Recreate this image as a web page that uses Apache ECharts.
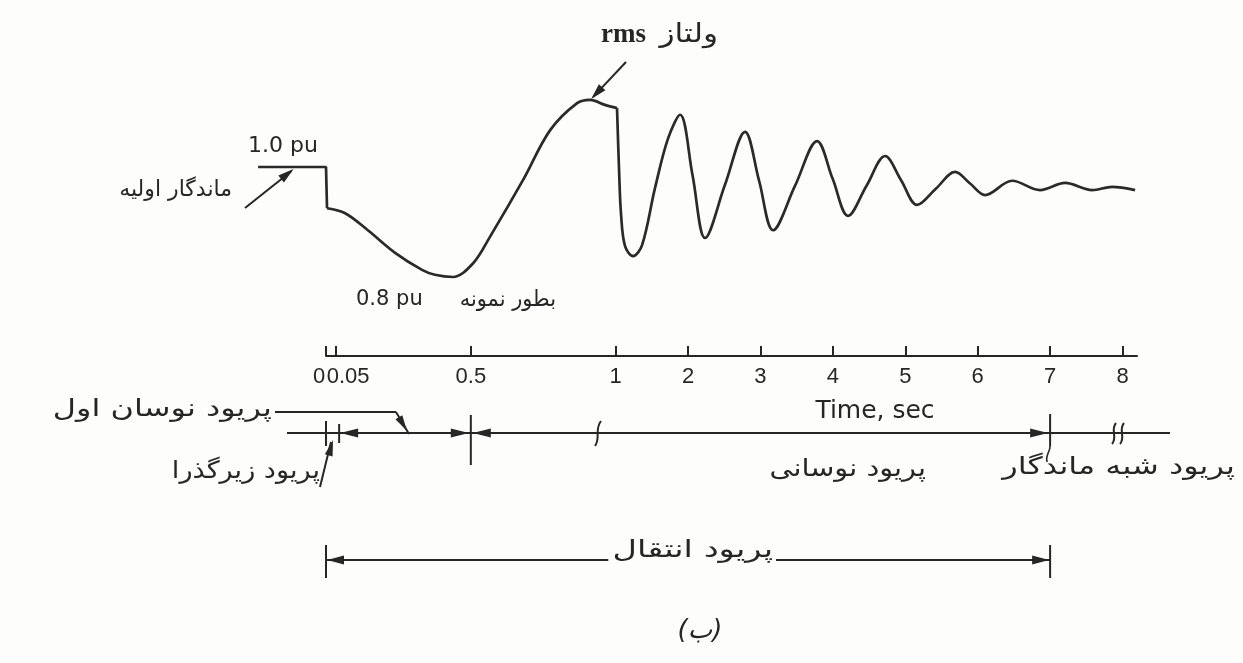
<!DOCTYPE html>
<html>
<head>
<meta charset="utf-8">
<script src="https://cdn.jsdelivr.net/npm/echarts@6/dist/echarts.min.js"></script>
<style>
  html, body { margin: 0; padding: 0; background: #fdfefb; }
  #c { width: 1243px; height: 663px; }
</style>
</head>
<body>
<div id="c"></div>
<script>
// Time axis ticks (s) and their labels
const tickTimes = [0, 0.05, 0.5, 1, 2, 3, 4, 5, 6, 7, 8];
const tickLabels = ['0', '0.05', '0.5', '1', '2', '3', '4', '5', '6', '7', '8'];

// rms voltage (pu) against time (s): pre-fault level, fault drop and first swing, then the decaying oscillation
const preFaultTime = [-0.335, 0, 0.005];
const preFaultPu = [1.0, 1.0, 0.925];
const firstSwingTime = [0.005, 0.080, 0.156, 0.247, 0.337, 0.380, 0.440, 0.508, 0.566, 0.680, 0.774, 0.867, 0.912, 0.963, 1.019];
const firstSwingPu = [0.925, 0.916, 0.885, 0.844, 0.813, 0.804, 0.800, 0.825, 0.873, 0.976, 1.067, 1.116, 1.122, 1.113, 1.107];
const swingTime = [1.019, 1.047, 1.075, 1.130, 1.240, 1.365, 1.544, 1.724, 1.890, 2.062, 2.235, 2.511, 2.787, 2.981,
  3.174, 3.478, 3.782, 3.996, 4.210, 4.465, 4.721, 4.942, 5.163, 5.425, 5.688, 5.895, 6.102, 6.475, 6.862, 7.207,
  7.580, 7.856, 8.174];
const swingPu = [1.107, 0.995, 0.913, 0.856, 0.838, 0.858, 0.962, 1.052, 1.095, 0.985, 0.871, 0.968, 1.064, 0.975,
  0.885, 0.966, 1.047, 0.979, 0.911, 0.966, 1.020, 0.976, 0.931, 0.961, 0.991, 0.970, 0.949, 0.975, 0.958, 0.971,
  0.958, 0.964, 0.958];

// Period boundaries (s)
const subtransientEnd = 0.05;
const firstSwingEnd = 0.5;
const oscillatoryEnd = 7;

// The time axis is stretched over the first second: piecewise-linear map from seconds to axis units
const warpT = [0, 0.05, 0.5, 1, 8];
const warpU = [0, 0.14, 2, 4, 11];
function warp(t) {
  let i = 0;
  while (i < warpT.length - 2 && t > warpT[i + 1]) i++;
  return warpU[i] + (t - warpT[i]) * (warpU[i + 1] - warpU[i]) / (warpT[i + 1] - warpT[i]);
}
const pts = (ts, vs) => ts.map((t, i) => [warp(t), vs[i]]);
const tickPos = tickTimes.map(warp);

const ink = '#262626';
const paper = '#fdfefb';
const curveStyle = { color: '#2a2a2a', width: 2.7 };
const faFont = '"DejaVu Sans", sans-serif';
const laFont = '"Liberation Sans", Arial, sans-serif';
const wideFont = '"DejaVu Sans", sans-serif';

const chart = echarts.init(document.getElementById('c'), null, { renderer: 'canvas' });

const option = {
  backgroundColor: paper,
  animation: false,
  grid: [
    { left: 253.6, right: 106, top: 84.5, height: 220, containLabel: false, outerBoundsMode: 'none' },
    { left: 326, right: 106, top: 300, height: 56, containLabel: false, outerBoundsMode: 'none' }
  ],
  xAxis: [
    { gridIndex: 0, type: 'value', min: -1, max: 11.2, show: false },
    {
      gridIndex: 1, type: 'value', min: 0, max: 11.2, position: 'bottom',
      axisLine: { show: true, lineStyle: { color: ink, width: 2 } },
      axisTick: { show: true, inside: true, length: 10, customValues: tickPos, lineStyle: { color: ink, width: 2 } },
      splitLine: { show: false },
      axisLabel: {
        show: true, customValues: tickPos, margin: 10, hideOverlap: false,
        color: ink, fontFamily: laFont, fontSize: 22,
        formatter: v => {
          const i = tickPos.findIndex(p => Math.abs(p - v) < 1e-6);
          const s = tickLabels[i];
          return i === 0 ? '{l|' + s + '}' : i === 1 ? '{r|' + s + '}' : '{n|' + s + '}';
        },
        rich: {
          l: { fontFamily: laFont, fontSize: 22, color: ink, padding: [0, 14, 0, 0] },
          r: { fontFamily: laFont, fontSize: 22, color: ink, padding: [0, 0, 0, 24] },
          n: { fontFamily: laFont, fontSize: 22, color: ink }
        }
      }
    }
  ],
  yAxis: [
    { gridIndex: 0, type: 'value', min: 0.75, max: 1.15, show: false },
    { gridIndex: 1, type: 'value', min: 0, max: 1, show: false }
  ],
  series: [
    { name: 'pre-fault', type: 'line', xAxisIndex: 0, yAxisIndex: 0, data: pts(preFaultTime, preFaultPu),
      showSymbol: false, smooth: false, silent: true, lineStyle: curveStyle },
    { name: 'first swing', type: 'line', xAxisIndex: 0, yAxisIndex: 0, data: pts(firstSwingTime, firstSwingPu),
      showSymbol: false, smooth: 0.35, silent: true, lineStyle: curveStyle },
    { name: 'oscillation', type: 'line', xAxisIndex: 0, yAxisIndex: 0, data: pts(swingTime, swingPu),
      showSymbol: false, smooth: 0.35, silent: true, lineStyle: curveStyle }
  ]
};
chart.setOption(option);

// ---- annotations ----
const X = t => chart.convertToPixel({ gridIndex: 1 }, [warp(t), 0])[0];
function seg(x1, y1, x2, y2, w = 2) {
  return { type: 'line', silent: true, z: 5, shape: { x1, y1, x2, y2 }, style: { stroke: ink, lineWidth: w } };
}
function curve(x1, y1, cx1, cy1, cx2, cy2, x2, y2, w = 2) {
  return { type: 'bezierCurve', silent: true, z: 5,
    shape: { x1, y1, cpx1: cx1, cpy1: cy1, cpx2: cx2, cpy2: cy2, x2, y2 },
    style: { stroke: ink, lineWidth: w, fill: null } };
}
// filled arrow head; ang is the direction it points to
function head(tx, ty, ang, len = 16, half = 4.5) {
  const bx = tx - Math.cos(ang) * len, by = ty - Math.sin(ang) * len;
  const nx = -Math.sin(ang) * half, ny = Math.cos(ang) * half;
  return { type: 'polygon', silent: true, z: 6,
    shape: { points: [[tx, ty], [bx + nx, by + ny], [bx - nx, by - ny]] }, style: { fill: ink } };
}
function txt(x, y, s, o = {}, sx = 1) {
  return { type: 'text', x, y, z: 10, silent: true, scaleX: sx,
    style: Object.assign({ text: s, fill: ink, fontFamily: wideFont, fontSize: 22, align: 'left', verticalAlign: 'middle' }, o) };
}
// Persian label anchored at its right edge, stretched horizontally by sx
function fa(x, y, s, size, sx, o = {}) {
  return txt(x, y, s, Object.assign({ fontFamily: faFont, fontSize: size, align: 'right' }, o), sx);
}

const x0 = X(0), x005 = X(subtransientEnd) + 3, x05 = X(firstSwingEnd), x7 = X(oscillatoryEnd);
const pk = firstSwingPu.indexOf(Math.max(...firstSwingPu));
const peak = chart.convertToPixel({ gridIndex: 0 }, [warp(firstSwingTime[pk]), firstSwingPu[pk]]);
const pre = chart.convertToPixel({ gridIndex: 0 }, [warp(-0.15), 1.0]);

const yT = 433;      // period time line
const yTr = 560;     // transient period line
const els = [
  // curve labels
  txt(248, 146, '1.0 pu', { fontSize: 22 }),
  fa(232, 190, 'ماندگار اولیه', 22, 1.0),
  seg(245, 208, pre[0] - 4, pre[1] + 4),
  head(pre[0] - 2, pre[1] + 2, Math.atan2(pre[1] + 2 - 208, pre[0] - 2 - 245)),
  txt(356, 300, '0.8 pu', { fontSize: 21 }),
  fa(556, 300, 'بطور نمونه', 22, 0.95),
  txt(601, 35, 'rms', { fontFamily: '"Liberation Serif", serif', fontWeight: 'bold', fontSize: 27 }),
  fa(718, 35, 'ولتاز', 26, 1.2),
  seg(626, 62, peak[0] + 3, peak[1] - 3),
  head(peak[0] + 1, peak[1] - 1, Math.atan2(peak[1] - 62, peak[0] - 626)),

  // axis caption
  txt(875, 411, 'Time, sec', { align: 'center', fontSize: 25 }),

  // period time line
  seg(287, yT, 1170, yT),
  seg(x0, 421, x0, 446),
  seg(x005, 424, x005, 443),
  head(x005 + 1, yT, Math.PI, 18),
  head(x05 - 2, yT, 0, 18),
  seg(x05, 415, x05, 465),
  head(x05 + 2, yT, Math.PI, 18),
  curve(595, 446, 601, 438, 594, 430, 601, 421),
  head(x7 - 2, yT, 0, 18),
  seg(x7, 414, x7, 446),
  curve(x7, 446, x7, 452, x7 - 5, 455, x7 - 3, 462, 1.6),
  curve(1112, 444, 1118, 437, 1110, 430, 1116, 423),
  curve(1120, 444, 1126, 437, 1118, 430, 1124, 423),

  // first swing period label and leader
  fa(272, 410, 'پریود نوسان اول', 24, 1.33),
  seg(275, 412, 396, 412),
  seg(396, 412, 409, 434),
  head(407, 431, Math.atan2(22, 13), 16, 4),
  // subtransient period label and leader
  fa(320, 472, 'پریود زیرگذرا', 24, 1.13),
  seg(320, 487, x0 + 5, 442),
  head(x0 + 7, 440, Math.atan2(440 - 487, x0 + 7 - 320), 16, 4),
  fa(926, 470, 'پریود نوسانی', 24, 1.2),
  fa(1235, 468, 'پریود شبه ماندگار', 24, 1.33),

  // transient period
  seg(x0, yTr, x7, yTr),
  seg(x0, 545, x0, 578),
  seg(x7, 545, x7, 578),
  head(x0 + 1, yTr, Math.PI, 17),
  head(x7 - 1, yTr, 0, 17),
  fa(776, 551, 'پریود انتقال', 24, 1.4, { backgroundColor: paper, padding: [2, 2, 2, 3] }),

  txt(700, 631, '(ب)', { align: 'center', fontFamily: faFont, fontSize: 26, fontStyle: 'italic' })
];
chart.setOption({ graphic: { elements: els } });
</script>
</body>
</html>
